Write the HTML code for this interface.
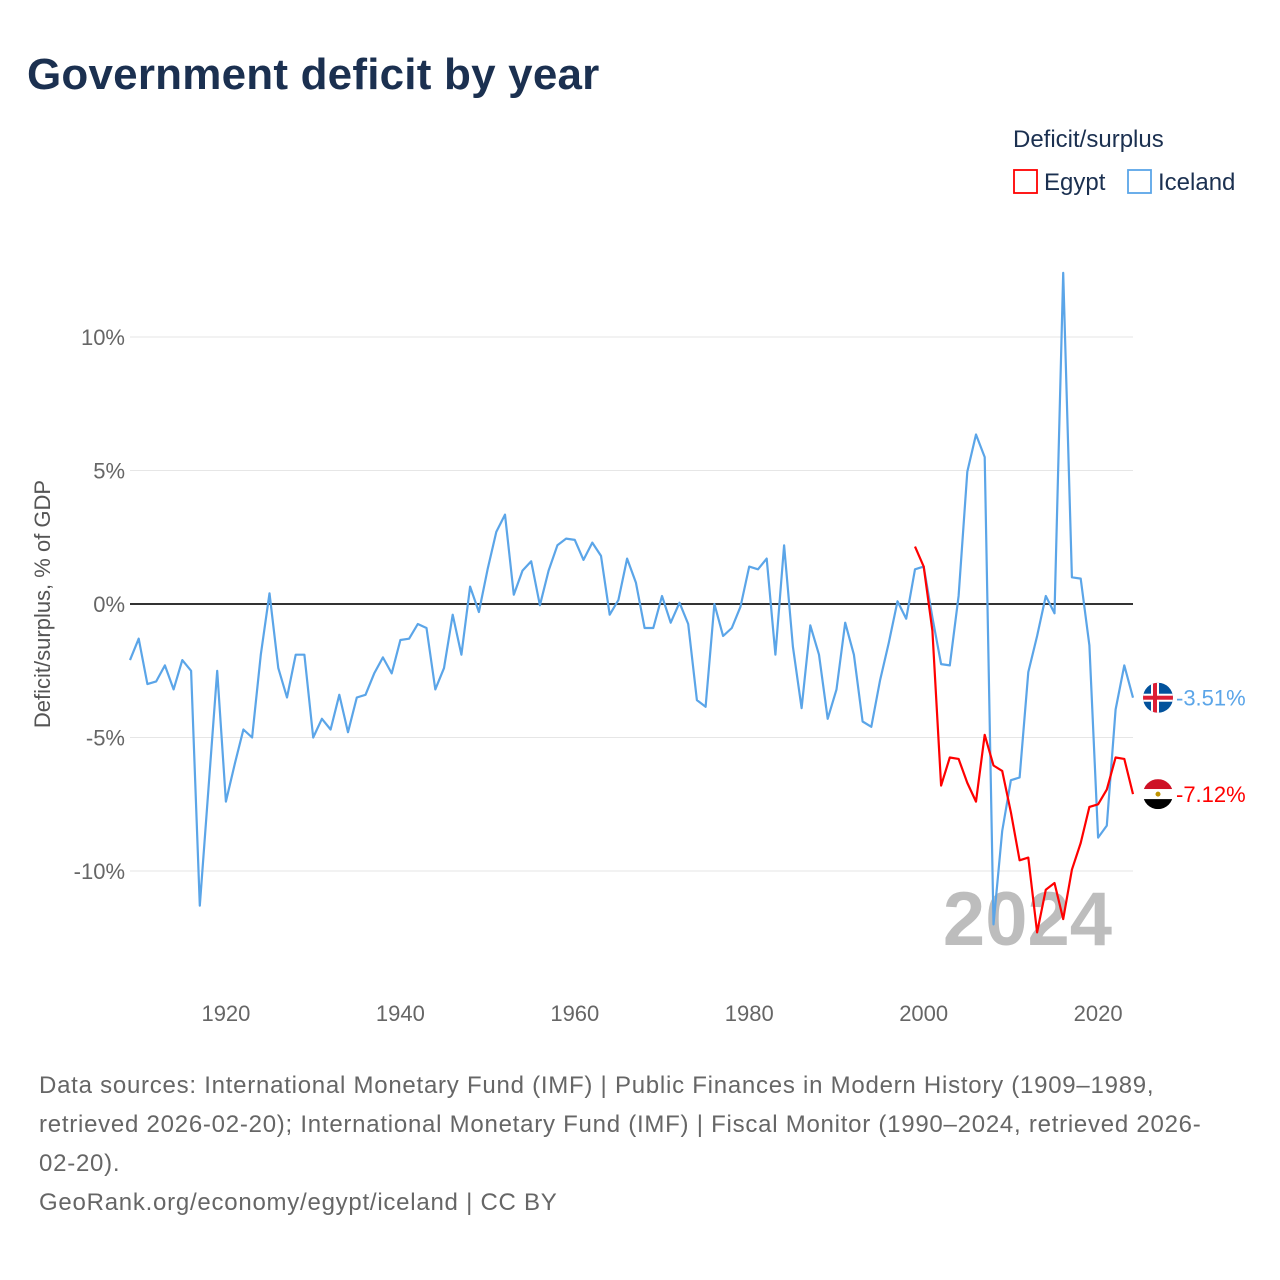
<!DOCTYPE html>
<html><head><meta charset="utf-8">
<style>
body{margin:0;background:#fff;font-family:"Liberation Sans",sans-serif;}
#wrap{position:relative;width:1280px;height:1280px;overflow:hidden;}
h1{position:absolute;left:27px;top:50px;margin:0;font-size:44px;font-weight:bold;color:#1b3050;letter-spacing:0.2px;}
.foot{position:absolute;left:39px;font-size:24px;color:#666;line-height:39px;white-space:nowrap;letter-spacing:0.75px;}
</style></head><body>
<div id="wrap">
<h1>Government deficit by year</h1>
<svg id="chart" width="1280" height="1280" style="position:absolute;left:0;top:0"></svg>
<div class="foot" style="top:1066px">Data sources: International Monetary Fund (IMF) | Public Finances in Modern History (1909–1989,<br>retrieved 2026-02-20); International Monetary Fund (IMF) | Fiscal Monitor (1990–2024, retrieved 2026-<br>02-20).</div>
<div class="foot" style="top:1183px">GeoRank.org/economy/egypt/iceland | CC BY</div>
</div>
<script>
const icelandStart = 1909;
const icelandValues = [-2.1,-1.3,-3.0,-2.9,-2.3,-3.2,-2.1,-2.5,-11.3,-6.9,-2.5,-7.4,-6.0,-4.7,-5.0,-1.9,0.4,-2.4,-3.5,-1.9,-1.9,-5.0,-4.3,-4.7,-3.4,-4.8,-3.5,-3.4,-2.6,-2.0,-2.6,-1.35,-1.3,-0.75,-0.9,-3.2,-2.4,-0.4,-1.9,0.65,-0.3,1.3,2.7,3.35,0.35,1.25,1.6,-0.05,1.25,2.2,2.45,2.4,1.65,2.3,1.8,-0.4,0.15,1.7,0.8,-0.9,-0.9,0.3,-0.7,0.05,-0.75,-3.6,-3.85,0,-1.2,-0.9,-0.1,1.4,1.3,1.7,-1.9,2.2,-1.6,-3.9,-0.8,-1.9,-4.3,-3.2,-0.7,-1.9,-4.4,-4.6,-2.85,-1.45,0.1,-0.55,1.3,1.4,-0.5,-2.25,-2.3,0.3,4.95,6.35,5.5,-12.0,-8.5,-6.6,-6.5,-2.55,-1.2,0.3,-0.35,12.4,1.0,0.95,-1.55,-8.75,-8.3,-3.95,-2.3,-3.51];
const egyptStart = 1999;
const egyptValues = [2.15,1.4,-1.0,-6.8,-5.75,-5.8,-6.7,-7.4,-4.9,-6.05,-6.25,-7.8,-9.6,-9.5,-12.3,-10.7,-10.45,-11.8,-9.95,-8.95,-7.6,-7.5,-6.95,-5.75,-5.8,-7.12];
const yTicks = [10,5,0,-5,-10];
const yTickLabels = ["10%","5%","0%","-5%","-10%"];
const xTicks = [1920,1940,1960,1980,2000,2020];

const NS="http://www.w3.org/2000/svg";
const svg=document.getElementById('chart');
const X0=130,X1=1133,YR0=1909,YR1=2024;
function xs(yr){return X0+(yr-YR0)*(X1-X0)/(YR1-YR0);}
function ys(v){return 604-v*26.7;}
function mk(tag,attrs,parent){const e=document.createElementNS(NS,tag);for(const k in attrs)e.setAttribute(k,attrs[k]);(parent||svg).appendChild(e);return e;}

yTicks.forEach((t,i)=>{
  if(t!==0){const g=mk('line',{x1:X0,x2:X1,y1:ys(t),y2:ys(t),stroke:'#e6e6e6','stroke-width':1});
  
  }
  const l=mk('text',{x:125,y:ys(t)+8,'text-anchor':'end','font-size':22,fill:'#666'});
  l.textContent=yTickLabels[i];
  
  
});
xTicks.forEach(t=>{
  const l=mk('text',{x:xs(t),y:1021,'text-anchor':'middle','font-size':22,fill:'#666'});
  l.textContent=t;
  
  
});
const yr=mk('text',{x:1112,y:945,'text-anchor':'end','font-size':76,'font-weight':'bold',fill:'#bdbdbd'});
yr.textContent='2024';


const zl=mk('line',{x1:X0,x2:X1,y1:ys(0),y2:ys(0),stroke:'#333','stroke-width':2});



function series(vals,start,color,name){
  const d=vals.map((v,i)=>(i?'L':'M')+xs(start+i).toFixed(1)+','+ys(v).toFixed(1)).join('');
  const p=mk('path',{d:d,fill:'none',stroke:color,'stroke-width':2.2,'stroke-linejoin':'round'});
  
  
}
series(icelandValues,icelandStart,'#5ba5e8','iceland-line');
series(egyptValues,egyptStart,'#ff0000','egypt-line');

const yl=mk('text',{x:0,y:0,transform:'translate(50,604) rotate(-90)','text-anchor':'middle','font-size':22,fill:'#555'});
yl.textContent='Deficit/surplus, % of GDP';



const iv=icelandValues[icelandValues.length-1], ev=egyptValues[egyptValues.length-1];
const fi=mk('g',{});


const cy1=ys(iv);
const cp1=mk('clipPath',{id:'c1'},fi);mk('circle',{cx:1158,cy:cy1,r:15},cp1);
const gi=mk('g',{'clip-path':'url(#c1)'},fi);
mk('rect',{x:1143,y:cy1-15,width:30,height:30,fill:'#02529c'},gi);
mk('rect',{x:1143,y:cy1-4,width:30,height:8,fill:'#fff'},gi);
mk('rect',{x:1151,y:cy1-15,width:8,height:30,fill:'#fff'},gi);
mk('rect',{x:1143,y:cy1-2,width:30,height:4,fill:'#dc1e35'},gi);
mk('rect',{x:1153,y:cy1-15,width:4,height:30,fill:'#dc1e35'},gi);
const li=mk('text',{x:1176,y:cy1+8,'font-size':22,fill:'#5ba5e8'});
li.textContent=iv.toFixed(2)+'%';



const fe=mk('g',{});


const cy2=ys(ev);
const cp=mk('clipPath',{id:'c2'},fe);mk('circle',{cx:1158,cy:cy2,r:15},cp);
const ge=mk('g',{'clip-path':'url(#c2)'},fe);
mk('rect',{x:1143,y:cy2-15,width:30,height:10,fill:'#ce1126'},ge);
mk('rect',{x:1143,y:cy2-5,width:30,height:10,fill:'#fff'},ge);
mk('rect',{x:1143,y:cy2+5,width:30,height:10,fill:'#000'},ge);
mk('circle',{cx:1158,cy:cy2,r:2.5,fill:'#c09300'},ge);
const le=mk('text',{x:1176,y:cy2+8,'font-size':22,fill:'#ff0000'});
le.textContent=ev.toFixed(2)+'%';



const lt=mk('text',{x:1013,y:147,'font-size':24,fill:'#1b3050'});
lt.textContent='Deficit/surplus';


[['Egypt','#ff0000',1014],['Iceland','#5ba5e8',1128]].forEach(([n,c,x])=>{
  const g=mk('g',{});
  
  
  mk('rect',{x:x,y:170,width:23,height:23,fill:'#fff',stroke:c,'stroke-width':1.8},g);
  const t=mk('text',{x:x+30,y:190,'font-size':24,fill:'#1b3050'},g);t.textContent=n;
});
</script>
</body></html>
